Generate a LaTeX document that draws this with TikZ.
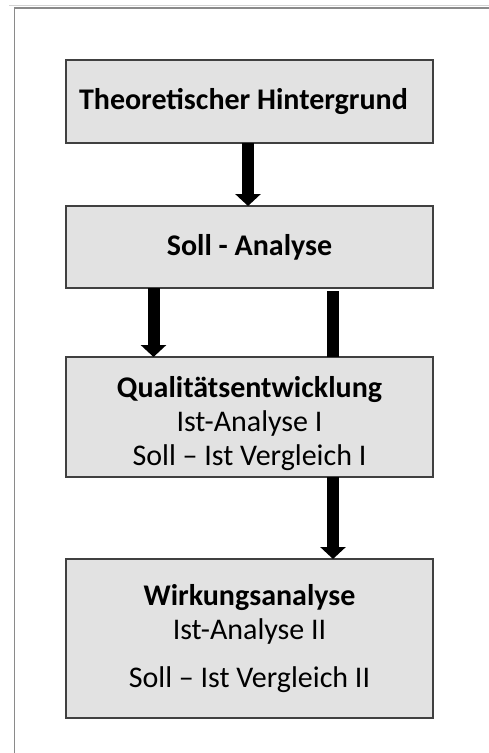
\documentclass[tikz,border=0pt]{standalone}
\usepackage{fontspec}
\setmainfont{Carlito}
\usepackage{tikz}
\usetikzlibrary{arrows.meta,positioning,shadows}
\definecolor{boxfill}{HTML}{E2E2E2}
\definecolor{boxline}{HTML}{404040}
\definecolor{framegray}{HTML}{8A8A8A}

\begin{document}
\begin{tikzpicture}[
    x=1pt, y=1pt,
    phase/.style={draw=boxline, line width=1.2pt, fill=boxfill, minimum width=367pt, inner sep=0pt, outer sep=0pt, align=center, font=\fontsize{30}{34}\selectfont, drop shadow={shadow xshift=1pt, shadow yshift=-1pt, opacity=0.35}},
    flow/.style={line width=12pt, -{Triangle[width=25pt,length=12pt]}},
    bar/.style={line width=12pt},
    node distance=63pt
  ]
    \useasboundingbox[fill=white] (0,0) rectangle (489,-753);
    % frame of the page
    \draw[gray!35, line width=1pt] (9,-5) -- (489,-5);
    \draw[framegray, line width=1.5pt] (14.5,-753) -- (14.5,-8) -- (489,-8);
    \node[phase, minimum height=83pt] (theo) at (249.5,-101.5) {\bfseries Theoretischer Hintergrund\hspace*{12pt}};
    \node[phase, minimum height=82pt, below=63pt of theo] (soll) {\bfseries Soll - Analyse};
    \node[phase, minimum height=120pt, below=69pt of soll] (qual) {\rule{0pt}{35pt}\textbf{Qualitätsentwicklung}\\Ist-Analyse I\\Soll – Ist Vergleich I};
    \node[phase, minimum height=159pt, below=82pt of qual] (wirk) {\textbf{Wirkungsanalyse}\\Ist-Analyse II\\[14pt]Soll – Ist Vergleich II};
    \draw[flow] ([xshift=-1.5pt]theo.south) -- ([xshift=-1.5pt]soll.north);
    \draw[flow] ([xshift=-96pt]soll.south) -- ([xshift=-96pt]qual.north);
    \draw[bar] ([xshift=83.5pt, yshift=-3pt]soll.south) -- ([xshift=83.5pt]qual.north);
    \draw[flow] ([xshift=83.5pt]qual.south) -- ([xshift=83.5pt]wirk.north);
\end{tikzpicture}
\end{document}
